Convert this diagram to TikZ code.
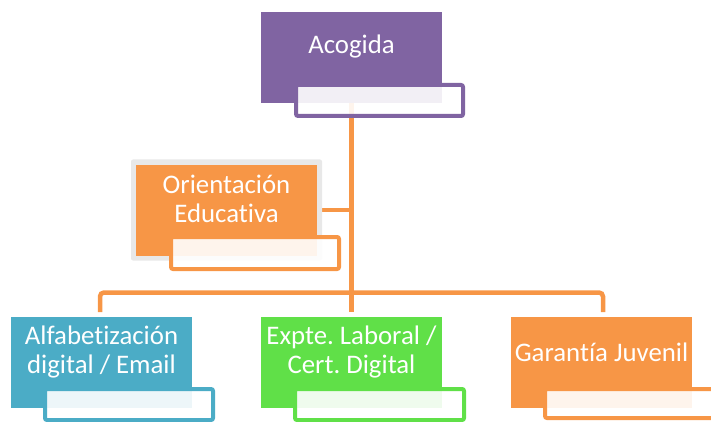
\documentclass[tikz,border=0pt]{standalone}
\usepackage{fontspec}
\setmainfont{Carlito}[Ligatures={NoCommon}]
\usetikzlibrary{calc}
\definecolor{cpurple}{HTML}{8064A2}
\definecolor{corange}{HTML}{F79646}
\definecolor{cblue}{HTML}{4BACC6}
\definecolor{cgreen}{HTML}{60E048}
\definecolor{cglow}{HTML}{E8E8E8}
\tikzset{
  box/.style={rectangle, inner sep=0, outer sep=0, minimum width=181pt, minimum height=91pt, anchor=north west},
  lbl/.style={text=white, align=center, inner sep=0, font=\frenchspacing\fontsize{26.8}{29}\selectfont},
  conn/.style={draw=corange, line width=4.5pt},
  frame/.style={line width=4pt, fill=white, fill opacity=0.9, rounded corners=2pt}
}
\begin{document}
\begin{tikzpicture}[x=1pt,y=-1pt]
\useasboundingbox (0,0) rectangle (711,422);
% boxes (positions only)
\node[box] (aco) at (261,12) {};
\node[box, minimum width=191pt, minimum height=101pt] (orig) at (131,159.5) {};
\node[box] (ori) at (136,165) {};
\node[box] (alf) at (11,317) {};
\node[box] (exp) at (261,317) {};
\node[box] (gar) at (511,317) {};
\coordinate (bus) at (352,292.5);
% connectors
\draw[conn] (aco.south) -- ($(exp.north)+(0,-5)$);
\draw[conn] (orig.east) -- (orig.east -| bus);
\draw[conn, rounded corners=4pt] ($(alf.north)+(-1.5,-5)$) |- (bus) -| ($(gar.north)+(1.5,-5)$);
% filled boxes
\fill[cglow, rounded corners=2pt] (orig.north west) rectangle (orig.south east);
\fill[cpurple] (aco.north west) rectangle (aco.south east);
\fill[corange] (ori.north west) rectangle (ori.south east);
\fill[cblue] (alf.north west) rectangle (alf.south east);
\fill[cgreen] (exp.north west) rectangle (exp.south east);
\fill[corange] (gar.north west) rectangle (gar.south east);
% frames
\draw[frame, draw=cpurple] ($(aco.north west)+(35,73)$) rectangle ($(aco.south east)+(21,13)$);
\draw[frame, draw=corange] ($(ori.north west)+(35,72)$) rectangle ($(ori.south east)+(22,13)$);
\draw[frame, draw=cblue] ($(alf.north west)+(34,72)$) rectangle ($(alf.south east)+(21,12)$);
\draw[frame, draw=cgreen] ($(exp.north west)+(34,72)$) rectangle ($(exp.south east)+(22,12)$);
\draw[frame, draw=corange] ($(gar.north west)+(34,72)$) rectangle ($(gar.south east)+(24,10)$);
% labels
\node[lbl] (acot) at ($(aco.north)+(0,35)$) {Acogida};
\node[lbl] (orit) at ($(ori.north)+(0,34)$) {Orientación\\Educativa};
\node[lbl] (alft) at ($(alf.north)+(0,35)$) {Alfabetización\\digital / Email};
\node[lbl] (expt) at ($(exp.north)+(0,35)$) {Expte. Laboral /\\Cert. Digital};
\node[lbl] (gart) at ($(gar.north)+(0,35)$) {Garantía Juvenil};
\end{tikzpicture}
\end{document}
